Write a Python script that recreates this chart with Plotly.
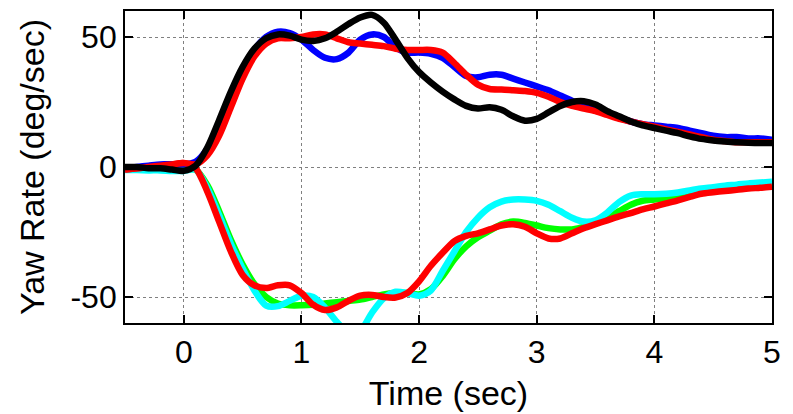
import plotly.graph_objects as go

time_s = [-0.5, -0.4, -0.3, -0.2, -0.1, 0.0, 0.1, 0.2, 0.3, 0.4,
          0.5, 0.6, 0.7, 0.8, 0.9, 1.0, 1.1, 1.2, 1.3, 1.4,
          1.5, 1.6, 1.7, 1.8, 1.9, 2.0, 2.1, 2.2, 2.3, 2.4,
          2.5, 2.6, 2.7, 2.8, 2.9, 3.0, 3.1, 3.2, 3.3, 3.4,
          3.5, 3.6, 3.7, 3.8, 3.9, 4.0, 4.1, 4.2, 4.3, 4.4,
          4.5, 4.6, 4.7, 4.8, 4.9, 5.0]

blue_up = [-0.5, 0, 0.5, 1, 1, 1, 2, 7, 16, 27,
           37, 45, 50, 52, 51.5, 49, 45, 42, 41.5, 44,
           49, 51, 50, 46, 44, 44, 43.5, 42, 38.5, 35,
           34.5, 35.5, 35.5, 34, 32.5, 31, 29.5, 27.5, 25.5, 24,
           22.5, 21, 19, 17.5, 16.5, 16, 15.5, 15, 14, 13,
           12, 11.5, 11.5, 11, 11, 10.5]

red_up = [-1, -0.5, 0, 0.5, 1, 1.5, 1, 4.5, 12, 23,
          34, 42.5, 47.5, 49.5, 49.5, 50, 51, 51, 49.5, 48,
          47.5, 47, 46.5, 45.5, 45, 45, 45, 44, 40, 35.5,
          31.7, 30, 29.8, 29.5, 29.2, 28.5, 27, 25, 23.5, 22.5,
          21.5, 20, 18.5, 17.5, 16.5, 15.5, 14.5, 13.5, 12.5, 11.5,
          10.5, 10, 9.5, 9.5, 9.5, 9.5]

black_up = [0, 0, -0.5, -0.5, -1, -1.5, 0.5, 7.5, 18, 29,
            38.5, 45.5, 49.5, 51, 50.5, 49, 48.5, 49.5, 52, 55,
            57.5, 58.5, 55.5, 49, 42, 36.5, 32.5, 29, 26, 23.5,
            22.5, 23, 22, 19.5, 17.8, 18.5, 21, 23.5, 25, 25.3,
            24, 21.5, 19.5, 17.5, 16, 15, 14, 13, 11.8, 10.8,
            10.2, 9.8, 9.5, 9.3, 9.2, 9.2]

green_low = [-0.5, -0.5, -0.8, -1, -1, -1, -1, -7, -17, -28,
             -37.5, -45, -50, -52.5, -53.2, -53.2, -53, -52.5, -52, -51.5,
             -51, -50, -49, -48.5, -48.5, -49, -47, -42, -35.5, -30.5,
             -27, -24.5, -22, -21, -21.5, -22.5, -23.5, -24, -24, -23,
             -21, -19.5, -17, -14.5, -13, -12.5, -12, -11.5, -10.5, -9.5,
             -9, -8.5, -8, -7.5, -7, -6.8]

cyan_low = [-1.2, -1.2, -1.3, -1.3, -1.5, -1.5, -1, -8, -18.5, -29.5,
            -39, -47.5, -53.3, -53.5, -51.5, -49.5, -50, -54, -59.5, -64,
            -63, -56, -50.5, -48, -48.5, -49.5, -47.5, -40, -32.5, -25,
            -19.5, -15.5, -13.3, -12.5, -12.5, -13, -14.5, -17, -19.5, -21,
            -20.5, -17.5, -13.5, -11, -10.5, -10.5, -10.3, -9.8, -9, -8.3,
            -7.8, -7.2, -6.8, -6.3, -6, -5.7]

red_low = [-1, -0.5, 0, 0.5, 1, 1.5, -0.5, -9.5, -21, -32.5,
           -41.5, -45.5, -46.5, -45.5, -45.5, -48.5, -53, -55, -54, -51.5,
           -49.5, -49.2, -50, -50.2, -48.5, -44, -38, -33, -28.5, -26.5,
           -25.5, -24, -22.5, -22, -23, -25.5, -27.5, -27.5, -25.5, -23.5,
           -22, -20.5, -19, -17.7, -16.3, -15.2, -14, -12.8, -11.5, -10.3,
           -9.7, -9.2, -8.8, -8.3, -8, -7.6]

x_ticks = [0, 1, 2, 3, 4, 5]
x_labels = ["0", "1", "2", "3", "4", "5"]
y_ticks = [-50, 0, 50]
y_labels = ["-50", "0", "50"]

series = [
    ("green", green_low, "#00FF00"),
    ("cyan", cyan_low, "#00FFFF"),
    ("red_low", red_low, "#FF0000"),
    ("blue", blue_up, "#0000FF"),
    ("red_up", red_up, "#FF0000"),
    ("black", black_up, "#000000"),
]

fig = go.Figure()
for name, vals, col in series:
    fig.add_trace(go.Scatter(x=time_s, y=vals, mode="lines", name=name,
                             line=dict(color=col, width=6.5, shape="spline", smoothing=0.8),
                             showlegend=False, hoverinfo="skip"))

font_family = "Liberation Sans, Arial, sans-serif"
FS = 32
FT = 34
axis_common = dict(
    showline=True, linecolor="black", linewidth=1.8, mirror="ticks",
    ticks="inside", ticklen=8, tickwidth=1.5, tickcolor="black",
    showgrid=True, gridcolor="#808080", gridwidth=1, griddash="dot",
    zeroline=False, automargin=False,
    tickfont=dict(family=font_family, size=FS, color="black"),
    tickmode="array",
)

fig.update_layout(
    width=793, height=414,
    margin=dict(l=125, r=21, t=11, b=91, autoexpand=False),
    paper_bgcolor="white", plot_bgcolor="white",
    font=dict(family=font_family, color="black"),
    xaxis=dict(range=[-0.5, 5], tickvals=x_ticks, ticktext=x_labels,
               title=dict(text="Time (sec)", font=dict(size=FT, family=font_family), standoff=12),
               **axis_common),
    yaxis=dict(range=[-60, 60], tickvals=y_ticks, ticktext=y_labels,
               title=dict(text="Yaw Rate (deg/sec)", font=dict(size=FT, family=font_family), standoff=16),
               **axis_common),
)

fig.write_html("out.html", config={"displayModeBar": False},
               post_script="document.body.style.margin='0';document.body.style.padding='0';")
